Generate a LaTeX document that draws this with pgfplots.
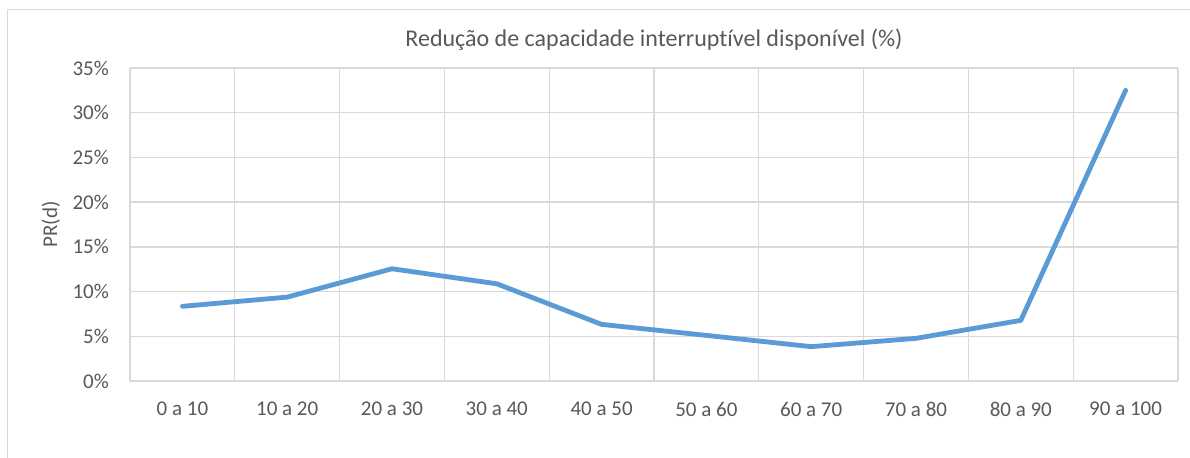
\documentclass[border=0pt]{standalone}
\usepackage{fontspec}
\setmainfont{Carlito}[Ligatures={TeX,NoCommon}]
\usepackage{pgfplots}
\pgfplotsset{compat=1.18}
\definecolor{txt}{HTML}{595959}
\definecolor{grd}{HTML}{D9D9D9}
\definecolor{ser}{HTML}{5B9BD5}
\begin{document}
\begin{tikzpicture}
\useasboundingbox (0bp,0bp) rectangle (1190bp,458bp);
\fill[white] (0bp,0bp) rectangle (1190bp,458bp);
\draw[grd, line width=1.5bp] (7.5bp,0bp) -- (7.5bp,448.5bp) -- (1190bp,448.5bp);
\begin{axis}[
  at={(130bp,77bp)}, anchor=south west, scale only axis,
  width=1048bp, height=313bp,
  xmin=-0.5, xmax=9.5, ymin=0, ymax=35,
  xtick={0,...,9},
  xticklabels={0 a 10,10 a 20,20 a 30,30 a 40,40 a 50,50 a 60,60 a 70,70 a 80,80 a 90,90 a 100},
  minor xtick={-0.5,0.5,...,9.5},
  ytick={0,5,...,35},
  yticklabels={0\%,5\%,10\%,15\%,20\%,25\%,30\%,35\%},
  ymajorgrids, xminorgrids,
  grid style={grd, line width=1.3bp},
  minor grid style={grd, line width=1.3bp},
  axis line style={draw=none},
  major tick length=0pt, minor tick length=0pt,
  tick label style={font=\fontsize{21bp}{25bp}\selectfont, text=txt, inner sep=0pt},
  xticklabel style={anchor=north, yshift=-21bp},
  yticklabel style={anchor=east, xshift=-21bp},
  ylabel={PR(d)},
  ylabel style={at={(axis description cs:-0.0754,0.5)}, anchor=center, font=\fontsize{21bp}{25bp}\selectfont, text=txt, inner sep=0pt},
  title={Redução de capacidade interruptível disponível (\%)},
  title style={at={(axis description cs:0.5,1.0495)}, anchor=base, font=\fontsize{24bp}{28bp}\selectfont, text=txt, inner sep=0pt},
  clip=false,
]
\addplot[ser, line width=4.8bp, line cap=round, line join=round] coordinates {
  (0,8.35) (1,9.38) (2,12.55) (3,10.87) (4,6.33) (5,5.1) (6,3.84) (7,4.77) (8,6.78) (9,32.5)
};
\end{axis}
\end{tikzpicture}
\end{document}
